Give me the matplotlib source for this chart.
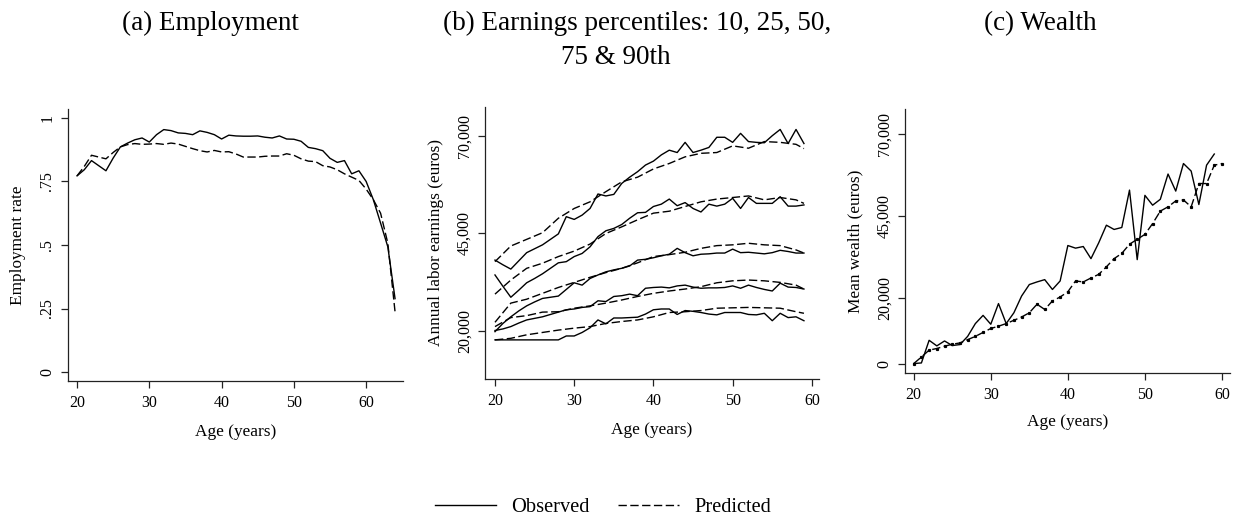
import matplotlib
matplotlib.use("Agg")
import matplotlib.pyplot as plt
from matplotlib.lines import Line2D
from matplotlib.ticker import FuncFormatter

plt.rcParams['font.family'] = ['Liberation Serif', 'DejaVu Serif']

# (a) employment rate by age
emp_age = list(range(20, 65))
emp_obs = [0.772, 0.796, 0.832, 0.812, 0.792, 0.842, 0.886, 0.901, 0.914, 0.921,
           0.905, 0.934, 0.954, 0.950, 0.941, 0.939, 0.934, 0.949, 0.943, 0.934,
           0.917, 0.932, 0.929, 0.928, 0.928, 0.929, 0.924, 0.921, 0.929, 0.917,
           0.916, 0.908, 0.884, 0.879, 0.871, 0.841, 0.825, 0.832, 0.780, 0.792,
           0.750, 0.678, 0.586, 0.493, 0.289]
emp_pred = [0.772, 0.809, 0.853, 0.846, 0.839, 0.864, 0.886, 0.895, 0.899, 0.896,
            0.897, 0.899, 0.896, 0.901, 0.897, 0.888, 0.879, 0.871, 0.866, 0.872,
            0.866, 0.867, 0.858, 0.846, 0.846, 0.846, 0.849, 0.850, 0.850, 0.859,
            0.853, 0.839, 0.830, 0.828, 0.812, 0.807, 0.796, 0.780, 0.767, 0.754,
            0.720, 0.678, 0.625, 0.507, 0.237]

# (b) earnings percentiles
earn_age = list(range(20, 60))
p90_obs = [38200, 37000, 35900, 38000, 40100, 41100, 42100, 43500, 44900, 49300,
           48600, 49700, 51400, 55100, 54600, 55000, 57800, 59400, 60800, 62500,
           63500, 65100, 66300, 65700, 68300, 65700, 66300, 67000, 69600, 69600,
           68300, 70600, 68500, 68300, 68200, 70000, 71600, 68000, 71600, 68000]
p75_obs = [34400, 31500, 28700, 30500, 32400, 33500, 34700, 36100, 37500, 37800,
           39100, 39900, 41600, 44200, 45700, 46300, 47300, 48900, 50300, 50400,
           51900, 52500, 53800, 52100, 52900, 51400, 50500, 52500, 52000, 52500,
           54000, 51400, 54200, 52700, 52700, 52700, 54400, 52000, 52000, 52300]
p50_obs = [19900, 22000, 23700, 25200, 26500, 27500, 28400, 28700, 29000, 30700,
           32400, 31800, 33500, 34400, 35200, 35700, 36100, 36700, 38200, 38400,
           38800, 39300, 39700, 41200, 40100, 39300, 39700, 39800, 40000, 40000,
           41000, 40100, 40200, 40000, 39800, 40100, 40700, 40400, 40000, 40000]
p25_obs = [20200, 20600, 21200, 22100, 22900, 23300, 23700, 24300, 24900, 25500,
           25700, 26100, 26300, 27800, 27600, 28900, 29100, 29500, 29100, 31000,
           31200, 31300, 31100, 31600, 31800, 31300, 31000, 31100, 31100, 31200,
           31600, 31000, 31800, 31200, 30700, 30300, 32300, 31300, 31200, 30800]
p10_obs = [17800, 17800, 17800, 17800, 17800, 17800, 17800, 17800, 17800, 18800,
           18800, 19700, 20900, 22900, 21900, 23400, 23400, 23500, 23600, 24400,
           25500, 25700, 25700, 24300, 25300, 25100, 24800, 24400, 24200, 24800,
           24800, 24800, 24300, 24200, 24600, 22700, 24600, 23500, 23700, 22700]

earn_age_pred = [20, 22, 24, 26, 28, 30, 32, 34, 36, 38, 40, 42, 44, 46, 48, 50, 52, 54, 56, 58, 59]
p90_pred = [37800, 41800, 43500, 45200, 48900, 51400, 53100, 55700, 58200, 59400, 61500,
            62900, 64600, 65500, 65700, 67400, 66800, 68500, 68300, 67800, 66700]
p75_pred = [29500, 33100, 36100, 37400, 39100, 40500, 42300, 45000, 46700, 48500, 50200,
            50700, 51900, 53100, 53800, 54200, 54600, 53600, 54200, 53600, 52700]
p50_pred = [22300, 27200, 28200, 29700, 31200, 32500, 33800, 35000, 36100, 37500, 39100,
            39600, 40200, 41200, 41900, 42100, 42500, 42100, 41900, 40800, 40000]
p25_pred = [21200, 23500, 24000, 24900, 25000, 25900, 26500, 27200, 28000, 28900, 29700,
            30300, 30800, 31400, 32400, 32900, 33100, 32900, 32500, 31800, 30800]
p10_pred = [17800, 18200, 19100, 19700, 20300, 20800, 21200, 22000, 22500, 22900, 23700,
            24800, 25000, 25300, 25900, 26000, 26100, 26000, 25900, 25000, 24600]

# (c) mean wealth
wealth_age_obs = list(range(20, 60))
wealth_obs = [0, 200, 7100, 5400, 6900, 5500, 5800, 8300, 12200, 14700,
              12000, 18300, 12200, 15500, 20600, 24100, 24900, 25600, 22600, 25200,
              36000, 35200, 35700, 32000, 36800, 42200, 40900, 41500, 52900, 31700,
              51300, 48300, 50100, 57800, 52600, 61000, 58700, 48500, 60500, 63900]
wealth_age_pred = list(range(20, 61))
wealth_pred = [0, 2000, 4100, 4600, 5300, 5900, 6300, 7300, 8300, 9500,
               10700, 11400, 12200, 13200, 14200, 15500, 18100, 16500, 19100, 20300,
               21900, 25200, 24900, 26100, 27200, 29500, 32000, 33600, 36400, 37900,
               39400, 42700, 46500, 47800, 49600, 49900, 47800, 54900, 54900, 60500,
               61000]

W, H = 1239, 523
fig = plt.figure(figsize=(W / 100, H / 100), dpi=100)


def px_axes(left, right, top, bottom):
    return fig.add_axes([left / W, 1 - bottom / H, (right - left) / W, (bottom - top) / H])


ax_a = px_axes(68, 403, 109, 381)
ax_b = px_axes(485, 819, 107, 379)
ax_c = px_axes(905, 1230, 109, 373)

DASH = (6, 2.5)
LW = 1.0

ax_a.plot(emp_age, emp_obs, color='black', lw=LW)
ax_a.plot(emp_age, emp_pred, color='black', lw=LW, linestyle=(0, DASH))

for obs in [p90_obs, p75_obs, p50_obs, p25_obs, p10_obs]:
    ax_b.plot(earn_age, obs, color='black', lw=LW)
for pred in [p90_pred, p75_pred, p50_pred, p25_pred, p10_pred]:
    ax_b.plot(earn_age_pred, pred, color='black', lw=LW, linestyle=(0, DASH))

ax_c.plot(wealth_age_obs, wealth_obs, color='black', lw=LW)
ax_c.plot(wealth_age_pred, wealth_pred, color='black', lw=LW, linestyle=(0, DASH),
          marker='s', markersize=1.3)

ax_a.set_xlim(18.75, 65.1)
ax_a.set_ylim(-0.035, 1.035)
ax_a.set_yticks([0, 0.25, 0.5, 0.75, 1])
ax_a.set_yticklabels(['0', '.25', '.5', '.75', '1'])

ax_b.set_xlim(18.74, 60.9)
ax_b.set_ylim(7800, 77340)
ax_b.set_yticks([20000, 45000, 70000])

ax_c.set_xlim(18.87, 61.04)
ax_c.set_ylim(-2870, 77630)
ax_c.set_yticks([0, 20000, 45000, 70000])

comma = FuncFormatter(lambda v, p: f"{v:,.0f}")
ax_b.yaxis.set_major_formatter(comma)
ax_c.yaxis.set_major_formatter(comma)

ylabels = {ax_a: ("Employment rate", -0.15), ax_b: ("Annual labor earnings (euros)", -0.147),
           ax_c: ("Mean wealth (euros)", -0.154)}

for ax in [ax_a, ax_b, ax_c]:
    ax.set_xticks([20, 30, 40, 50, 60])
    for s in ['top', 'right']:
        ax.spines[s].set_visible(False)
    for s in ['left', 'bottom']:
        ax.spines[s].set_linewidth(0.9)
        ax.spines[s].set_color('#222222')
    ax.tick_params(length=5, width=0.9, color='#222222', labelsize=11.5, pad=5)
    ax.tick_params(axis='y', labelrotation=90, pad=4)
    for lab in ax.get_yticklabels():
        lab.set_va('center')
    ax.set_xlabel("Age (years)", fontsize=12.4, va='center')
    ax.xaxis.set_label_coords(0.5, -0.1875)
    txt, xpos = ylabels[ax]
    ax.set_ylabel(txt, fontsize=12.4, va='center')
    ax.yaxis.set_label_coords(xpos, 0.5)

TITLE = 19.5
fig.text(210 / W, 1 - 30 / H, "(a) Employment", fontsize=TITLE, ha='center', va='baseline')
fig.text(637 / W, 1 - 30 / H, "(b) Earnings percentiles: 10, 25, 50,", fontsize=TITLE,
         ha='center', va='baseline')
fig.text(616 / W, 1 - 64 / H, "75 & 90th", fontsize=TITLE, ha='center', va='baseline')
fig.text(1040 / W, 1 - 30 / H, "(c) Wealth", fontsize=TITLE, ha='center', va='baseline')

handles = [Line2D([], [], color='black', lw=LW),
           Line2D([], [], color='black', lw=LW, linestyle=(0, DASH))]
fig.legend(handles, ['Observed', 'Predicted'], loc='center', bbox_to_anchor=(603 / W, 1 - 507 / H),
           ncol=2, frameon=False, fontsize=14.7, handlelength=3.0, handletextpad=0.75,
           columnspacing=1.4)

fig.savefig("out.png", dpi=100, facecolor='white')
